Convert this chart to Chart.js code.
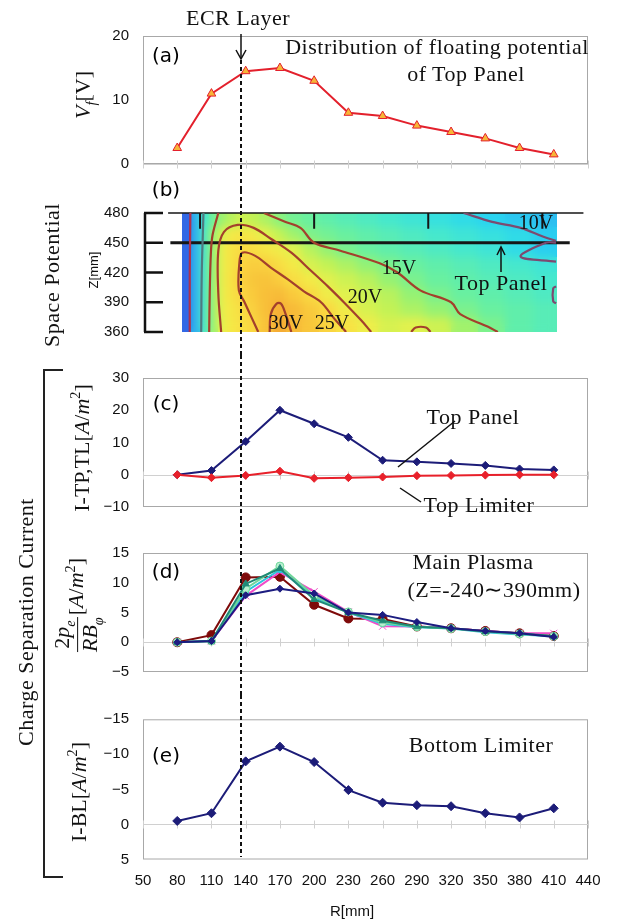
<!DOCTYPE html>
<html lang="en">
<head>
<meta charset="UTF-8">
<title>Floating potential, space potential and charge separation current</title>
<script src="https://cdn.jsdelivr.net/npm/chart.js"></script>
<style>
    body { margin: 0; background: #fff; }
    #page { position: relative; width: 617px; height: 920px; overflow: hidden; font-family: "Liberation Serif", serif; color: #111; }
    .panel { position: absolute; left: 0; width: 617px; }
    .txt { position: absolute; transform: translate(-50%, -50%); white-space: nowrap; font-size: 22px; letter-spacing: 0.5px; }
    .clab { position: absolute; transform: translate(-50%, -50%); white-space: nowrap; font-size: 20px; }
    .rot { position: absolute; transform: translate(-50%, -50%) rotate(-90deg); white-space: nowrap; font-size: 22px; }
    .tag { position: absolute; transform: translate(-50%, -50%); font-family: "DejaVu Sans", sans-serif; font-size: 20px; color: #000; }
    .sans { font-family: "Liberation Sans", Arial, sans-serif; }
    .frac { display: inline-flex; flex-direction: column; vertical-align: middle; text-align: center; line-height: 1.05; margin-right: 2px; }
    .frac .num { border-bottom: 1.5px solid #111; padding: 0 2px; }
    sub, sup { font-size: 65%; }
    svg { position: absolute; left: 0; top: 0; pointer-events: none; }
</style>
</head>
<body>
<div id="page">
    <div class="panel" style="top:0;height:190px"><canvas id="chartA" width="617" height="190"></canvas></div>
    <div class="panel" style="top:190px;height:165px"><canvas id="chartB" width="617" height="165"></canvas></div>
    <div class="panel" style="top:355px;height:175px"><canvas id="chartC" width="617" height="175"></canvas></div>
    <div class="panel" style="top:530px;height:165px"><canvas id="chartD" width="617" height="165"></canvas></div>
    <div class="panel" style="top:695px;height:225px"><canvas id="chartE" width="617" height="225"></canvas></div>

    <svg width="617" height="920">
        <g stroke="#111" stroke-width="1.5" fill="none">
            <line x1="241" y1="34" x2="241" y2="58"/>
            <polyline points="236,50 241,59 246,50"/>
            <line x1="501" y1="272" x2="501" y2="248"/>
            <polyline points="497,255 501,247 505,255"/>
            <line x1="455" y1="421" x2="398" y2="467"/>
            <line x1="421" y1="502" x2="400" y2="488"/>
        </g>
        <polyline points="63,370 44,370 44,877 63,877" stroke="#222" stroke-width="2" fill="none"/>
    </svg>

    <!-- panel letters -->
    <div class="tag" style="left:166px;top:55px">(a)</div>
    <div class="tag" style="left:166px;top:189px">(b)</div>
    <div class="tag" style="left:166px;top:403px">(c)</div>
    <div class="tag" style="left:166px;top:571px">(d)</div>
    <div class="tag" style="left:166px;top:755px">(e)</div>

    <!-- annotations -->
    <div class="txt" style="left:238px;top:18px">ECR Layer</div>
    <div class="txt" style="left:437px;top:47px">Distribution of floating potential</div>
    <div class="txt" style="left:466px;top:74px">of Top Panel</div>
    <div class="clab" style="left:536px;top:222px">10V</div>
    <div class="clab" style="left:399px;top:267px">15V</div>
    <div class="clab" style="left:365px;top:296px">20V</div>
    <div class="clab" style="left:332px;top:322px">25V</div>
    <div class="clab" style="left:286px;top:322px">30V</div>
    <div class="txt" style="left:501px;top:283px">Top Panel</div>
    <div class="txt" style="left:473px;top:417px">Top Panel</div>
    <div class="txt" style="left:479px;top:505px">Top Limiter</div>
    <div class="txt" style="left:473px;top:562px">Main Plasma</div>
    <div class="txt" style="left:494px;top:590px">(Z=-240∼390mm)</div>
    <div class="txt" style="left:481px;top:745px">Bottom Limiter</div>

    <!-- axis titles -->
    <div class="rot" style="left:85px;top:95px"><i>V<sub>f</sub></i>[V]</div>
    <div class="rot" style="left:52px;top:275px;letter-spacing:0.5px">Space Potential</div>
    <div class="rot sans" style="left:93px;top:270px;font-size:13px">Z[mm]</div>
    <div class="rot" style="left:81px;top:448px">I-TP,TL[<i>A</i>/<i>m</i><sup>2</sup>]</div>
    <div class="rot" style="left:78px;top:605px"><span class="frac"><span class="num">2<i>p<sub>e</sub></i></span><span><i>RB<sub>φ</sub></i></span></span>[<i>A</i>/<i>m</i><sup>2</sup>]</div>
    <div class="rot" style="left:78px;top:792px">I-BL[<i>A</i>/<i>m</i><sup>2</sup>]</div>
    <div class="rot" style="left:26px;top:622px;letter-spacing:0.5px">Charge Separation Current</div>
    <div class="txt sans" style="left:352px;top:910px;font-size:15px;letter-spacing:0">R[mm]</div>
</div>

<script>
// radial positions of the probe measurements (mm)
const rValues = [80, 110, 140, 170, 200, 230, 260, 290, 320, 350, 380, 410];
const ecrR = 136;

// (a) floating potential of top panel [V]
const floatingPotential = [2.5, 11, 14.5, 15, 13, 8, 7.5, 6, 5, 4, 2.5, 1.5];

// (c) top panel / top limiter current [A/m2]
const topPanelCurrent = [0, 1.3, 10.3, 20, 15.8, 11.6, 4.5, 4.0, 3.5, 2.9, 1.8, 1.5];
const topLimiterCurrent = [0, -0.9, -0.2, 1.1, -1.1, -0.9, -0.7, -0.3, -0.2, -0.1, 0, 0];

// (d) 2pe/RBphi for the main plasma, one series per Z position
const mainPlasmaA = [0, 0.2, 7.9, 9.0, 8.2, 5.0, 4.6, 3.4, 2.35, 1.9, 1.5, 0.9];
const mainPlasmaB = [0, 0.2, 9.8, 12.4, 7.2, 5.0, 3.6, 2.6, 2.35, 1.8, 1.5, 1.0];
const mainPlasmaC = [0, 0.2, 9.0, 12.8, 7.8, 5.1, 3.3, 2.6, 2.3, 1.8, 1.4, 1.0];
const mainPlasmaD = [0, 0.2, 8.5, 12.2, 7.6, 5.0, 3.1, 2.5, 2.3, 1.7, 1.3, 1.0];
const mainPlasmaE = [0, 0.2, 7.8, 11.8, 8.5, 5.1, 2.7, 2.65, 2.35, 1.9, 1.5, 1.5];
const mainPlasmaF = [0, 1.2, 10.9, 11.0, 6.3, 4.0, 3.9, 2.65, 2.35, 1.9, 1.5, 1.05];

// (e) bottom limiter current [A/m2]
const bottomLimiterCurrent = [-0.5, -1.6, -9.0, -11.1, -8.9, -4.9, -3.1, -2.75, -2.6, -1.6, -1.0, -2.3];

// (b) space potential map [V]: cell edges and values, rows from Z=480 down to Z=360
const rEdges = [85, 92, 100, 108, 116, 124, 132, 142, 152, 164, 176, 190, 205, 220, 238, 256, 276, 298, 320, 344, 368, 392, 412];
const zEdges = [480, 465, 450, 435, 420, 405, 390, 375, 360];
const potentialRows = [
    [3, 8, 12, 14.5, 16.5, 17.5, 18.5, 18, 17, 15.5, 14.5, 14, 13.5, 13, 12.5, 12, 11.5, 11, 10.5, 9.8, 9, 8.5],
    [3, 8, 12.5, 16.5, 19.5, 21.5, 22.5, 21.5, 19.5, 18, 16.5, 15, 14.5, 14, 13.5, 13, 12.5, 12, 11.5, 11, 10.5, 9.5],
    [3, 8, 12.5, 16.5, 20.5, 23, 24.5, 24, 22.5, 21, 19.5, 17.5, 16, 14.8, 14, 13.5, 13, 12.5, 12, 11.5, 10.5, 9.5],
    [3, 8, 12.5, 16.5, 20.5, 23, 25.5, 26.5, 26, 24, 21.5, 19, 18, 17, 15.8, 14.8, 14, 13.5, 13, 12.5, 12, 11.5],
    [3, 8, 12.5, 16.5, 20.5, 23.5, 26, 27.5, 28, 26.5, 24, 21.5, 19.5, 18.5, 17.5, 16, 14.8, 14, 13.5, 13, 12.5, 12],
    [3, 8, 12.5, 16.5, 20.5, 23, 25.2, 27, 28.5, 29, 27, 24.5, 21, 19.5, 18.5, 17.5, 16, 14.8, 14, 13.5, 13, 12.5],
    [3, 8, 12.5, 16.5, 20.5, 22, 24, 26, 28.5, 30.5, 29, 27, 24.8, 21, 19, 18, 17, 16, 14.8, 14, 13.5, 13],
    [3, 8, 12.5, 16.5, 20, 22, 23.5, 25, 28, 31, 29, 27.5, 25.5, 23, 20.5, 19, 19.5, 18.5, 16.5, 14.8, 13.5, 13]
];

// (b) contour lines as [R, Z] pairs
const contourEdge = [[91, 360], [91, 420], [91.5, 480]];
const contour10Left = [[101, 360], [101.5, 420], [103, 480]];
const contour15Left = [[108, 360], [108.5, 400], [109.5, 440], [111, 458], [116, 480]];
const contour15Right = [[156, 480], [175, 471], [188, 465], [200, 450], [223, 442], [258, 429], [273, 420], [293, 402], [320, 390], [328, 378], [352, 365.5], [361, 360]];
const contour20 = [[118.5, 360], [116, 399], [116, 442], [121, 461], [133, 468], [147, 465], [162, 454], [180, 440], [197, 422], [212, 406], [226, 390], [241, 372], [250, 360]];
const contour25 = [[151, 360], [145, 375], [139, 390], [134, 402], [134.5, 430], [137, 440], [148, 437], [162, 425], [177, 413], [191, 401], [206, 390], [218, 373], [228, 360]];
const contour30 = [[161, 360], [162, 378], [167, 388.5], [171, 388.5], [175, 378], [180, 360]];
const contour10 = [[331, 480], [356, 471], [381, 465], [401, 456], [412, 452]];
const contour10Wedge = [[412, 450], [403, 450], [381, 436], [412, 431]];
const contourBump = [[285, 360], [289, 364.5], [298, 364.5], [302, 360]];
const contourRightEdge = [[412, 406], [409.5, 404], [409.5, 391], [412, 389]];

// (b) limiter and panel lines
const limiterLineR = [72, 436];
const limiterZ = 480;
const panelLineR = [74, 424];
const panelZ = 450;
const limiterTickR = [100, 200, 300, 400];
const limiterTickEndZ = 464;

// colour map for the potential
const potStops = [0, 5, 8, 10, 12, 14, 16, 18, 20, 22, 25, 28, 31];
const potColors = [
    [50, 80, 220], [50, 120, 235], [45, 180, 240], [40, 215, 240], [70, 232, 205], [105, 240, 160],
    [150, 242, 115], [195, 242, 85], [235, 240, 75], [245, 232, 70], [250, 215, 65], [248, 195, 58], [245, 170, 52]
];

function potentialColor(v) {
    if (v <= potStops[0]) return `rgb(${potColors[0].join(',')})`;
    for (let i = 1; i < potStops.length; i++) {
        if (v <= potStops[i]) {
            const t = (v - potStops[i - 1]) / (potStops[i] - potStops[i - 1]);
            const c = potColors[i - 1].map((c0, k) => Math.round(c0 + t * (potColors[i][k] - c0)));
            return `rgb(${c.join(',')})`;
        }
    }
    return `rgb(${potColors[potColors.length - 1].join(',')})`;
}

const xy = values => rValues.map((r, i) => ({ x: r, y: values[i] }));
const pairs = list => list.map(p => ({ x: p[0], y: p[1] }));

Chart.defaults.font.family = '"Liberation Sans", Arial, sans-serif';
Chart.defaults.font.size = 15;
Chart.defaults.color = '#111';

// frame round the plot area plus the zero line with its tick marks
const framePlugin = {
    id: 'frame',
    beforeDatasetsDraw(chart) {
        const { ctx, chartArea: a, scales: { x, y } } = chart;
        ctx.save();
        ctx.strokeStyle = '#a8a8a8';
        ctx.lineWidth = 1;
        ctx.strokeRect(a.left + 0.5, a.top + 0.5, a.width - 1, a.height - 1);
        const y0 = Math.round(y.getPixelForValue(0)) + 0.5;
        ctx.strokeStyle = '#d0d0d0';
        ctx.beginPath();
        ctx.moveTo(a.left, y0);
        ctx.lineTo(a.right, y0);
        x.ticks.forEach(t => {
            const px = Math.round(x.getPixelForValue(t.value)) + 0.5;
            ctx.moveTo(px, y0 - 4);
            ctx.lineTo(px, y0 + 4);
        });
        ctx.stroke();
        ctx.restore();
    }
};

// dashed ECR layer line
const ecrPlugin = {
    id: 'ecr',
    afterDatasetsDraw(chart, args, opts) {
        const { ctx, scales: { x } } = chart;
        const px = Math.round(x.getPixelForValue(ecrR));
        ctx.save();
        ctx.strokeStyle = '#111';
        ctx.lineWidth = 2;
        ctx.setLineDash([4, 3]);
        ctx.beginPath();
        ctx.moveTo(px, opts.from);
        ctx.lineTo(px, opts.to);
        ctx.stroke();
        ctx.restore();
    }
};

// potential cells, painted through the scales, then softened
const heatmapPlugin = {
    id: 'heatmap',
    beforeDatasetsDraw(chart) {
        const { ctx, scales: { x, y } } = chart;
        const off = document.createElement('canvas');
        off.width = chart.width;
        off.height = chart.height;
        const octx = off.getContext('2d');
        potentialRows.forEach((row, j) => {
            const y1 = Math.floor(y.getPixelForValue(zEdges[j]));
            const y2 = Math.ceil(y.getPixelForValue(zEdges[j + 1]));
            row.forEach((v, i) => {
                const x1 = Math.floor(x.getPixelForValue(rEdges[i]));
                const x2 = Math.ceil(x.getPixelForValue(rEdges[i + 1]));
                octx.fillStyle = potentialColor(v);
                octx.fillRect(x1, y1, x2 - x1, y2 - y1);
            });
        });
        const left = x.getPixelForValue(rEdges[0]);
        const right = x.getPixelForValue(rEdges[rEdges.length - 1]);
        const top = y.getPixelForValue(zEdges[0]);
        const bottom = y.getPixelForValue(zEdges[zEdges.length - 1]);
        ctx.save();
        ctx.drawImage(off, 0, 0);
        ctx.beginPath();
        ctx.rect(left + 7, top, right - left - 7, bottom - top);
        ctx.clip();
        ctx.filter = 'blur(5px)';
        ctx.drawImage(off, 0, 0);
        ctx.restore();
    }
};

// bracket-style Z axis of panel (b)
const bracketPlugin = {
    id: 'bracket',
    afterDraw(chart) {
        const { ctx, chartArea: a, scales: { y } } = chart;
        const bx = a.left + 2;
        ctx.save();
        ctx.strokeStyle = '#111';
        ctx.lineWidth = 2.5;
        ctx.beginPath();
        ctx.moveTo(bx, y.getPixelForValue(y.max));
        ctx.lineTo(bx, y.getPixelForValue(y.min));
        y.ticks.forEach(t => {
            const py = y.getPixelForValue(t.value);
            ctx.moveTo(bx - 1, py);
            ctx.lineTo(bx + 18, py);
        });
        ctx.stroke();
        ctx.restore();
    }
};

function panelOptions(cfg) {
    const x = {
        type: 'linear', min: 50, max: 440,
        display: !!cfg.showX,
        grid: { display: false },
        border: { display: false },
        ticks: { stepSize: 30, autoSkip: false, maxRotation: 0, padding: 4 }
    };
    if (cfg.showX) x.afterFit = a => { a.height = 40; };
    return {
        responsive: false,
        animation: false,
        layout: { padding: { left: 103, right: 29, top: cfg.top, bottom: cfg.bottom } },
        plugins: {
            legend: { display: false },
            tooltip: { enabled: false },
            ecr: { from: cfg.ecrFrom, to: cfg.ecrTo }
        },
        scales: {
            x,
            y: {
                min: cfg.min, max: cfg.max, reverse: !!cfg.reverse,
                grid: { display: false, drawTicks: false },
                border: { display: false },
                ticks: { stepSize: cfg.step, padding: 14, callback: v => String(v).replace('-', '−') },
                afterFit: a => { a.width = 40; }
            }
        }
    };
}

function lineSet(values, color, style, radius, fill) {
    return {
        data: xy(values), borderColor: color, borderWidth: 2,
        pointStyle: style, pointRadius: radius, pointBackgroundColor: fill || color,
        pointBorderColor: color, pointBorderWidth: 1, showLine: true
    };
}

// (a)
new Chart(document.getElementById('chartA'), {
    type: 'scatter',
    data: { datasets: [{
        data: xy(floatingPotential), borderColor: '#e3202c', borderWidth: 2, showLine: true,
        pointStyle: 'triangle', pointRadius: 5, pointBackgroundColor: '#f7b538',
        pointBorderColor: '#e3202c', pointBorderWidth: 1
    }] },
    options: panelOptions({ top: 36, bottom: 26, min: 0, max: 20, step: 10, ecrFrom: 60, ecrTo: 190 }),
    plugins: [framePlugin, ecrPlugin]
});

// (b)
const contourColor = '#a3402c';
const contourSet = (list, color) => ({
    data: pairs(list), borderColor: color || contourColor, borderWidth: 2.2,
    pointRadius: 0, showLine: true, tension: 0.35
});
const refSet = (list, width) => ({
    data: pairs(list), borderColor: '#161616', borderWidth: width,
    pointRadius: 0, showLine: true, clip: 6
});
new Chart(document.getElementById('chartB'), {
    type: 'scatter',
    data: { datasets: [
        contourSet(contourEdge, '#b0304c'), contourSet(contour10Left, '#4f7a80'),
        contourSet(contour15Left), contourSet(contour15Right), contourSet(contour20),
        contourSet(contour25), contourSet(contour30), contourSet(contour10, '#7d4a70'),
        contourSet(contour10Wedge, '#7d4a70'), contourSet(contourBump), contourSet(contourRightEdge, '#7d4a70'),
        refSet(limiterLineR.map(r => [r, limiterZ]), 1.5),
        refSet(panelLineR.map(r => [r, panelZ]), 3),
        ...limiterTickR.map(r => refSet([[r, limiterZ], [r, limiterTickEndZ]], 2))
    ] },
    options: panelOptions({ top: 21, bottom: 11, min: 360, max: 480, step: 30, ecrFrom: 0, ecrTo: 165 }),
    plugins: [heatmapPlugin, bracketPlugin, ecrPlugin]
});

// (c)
new Chart(document.getElementById('chartC'), {
    type: 'scatter',
    data: { datasets: [
        lineSet(topLimiterCurrent, '#e8202a', 'rectRot', 4),
        lineSet(topPanelCurrent, '#1c1c78', 'rectRot', 4)
    ] },
    options: panelOptions({ top: 22.7, bottom: 11.7, min: -10, max: 30, step: 10, ecrFrom: 0, ecrTo: 175 }),
    plugins: [framePlugin, ecrPlugin]
});

// (d)
new Chart(document.getElementById('chartD'), {
    type: 'scatter',
    data: { datasets: [
        lineSet(mainPlasmaA, '#1c1c80', 'rectRot', 3.5),
        lineSet(mainPlasmaB, '#1f8a76', 'triangle', 4),
        lineSet(mainPlasmaC, '#6fd79a', 'circle', 4, '#b8f0d0'),
        lineSet(mainPlasmaD, '#2cc4dc', 'circle', 3),
        lineSet(mainPlasmaE, '#f04cc8', 'crossRot', 5),
        lineSet(mainPlasmaF, '#7e0a0a', 'circle', 4.5)
    ] },
    options: panelOptions({ top: 16.5, bottom: 12, min: -5, max: 15, step: 5, ecrFrom: 0, ecrTo: 165 }),
    plugins: [framePlugin, ecrPlugin]
});

// (e)
new Chart(document.getElementById('chartE'), {
    type: 'scatter',
    data: { datasets: [lineSet(bottomLimiterCurrent, '#1c1c78', 'rectRot', 4.5)] },
    options: panelOptions({ top: 24.3, bottom: 20.5, min: -15, max: 5, step: 5, reverse: true, showX: true, ecrFrom: 0, ecrTo: 162 }),
    plugins: [framePlugin, ecrPlugin]
});
</script>
</body>
</html>
